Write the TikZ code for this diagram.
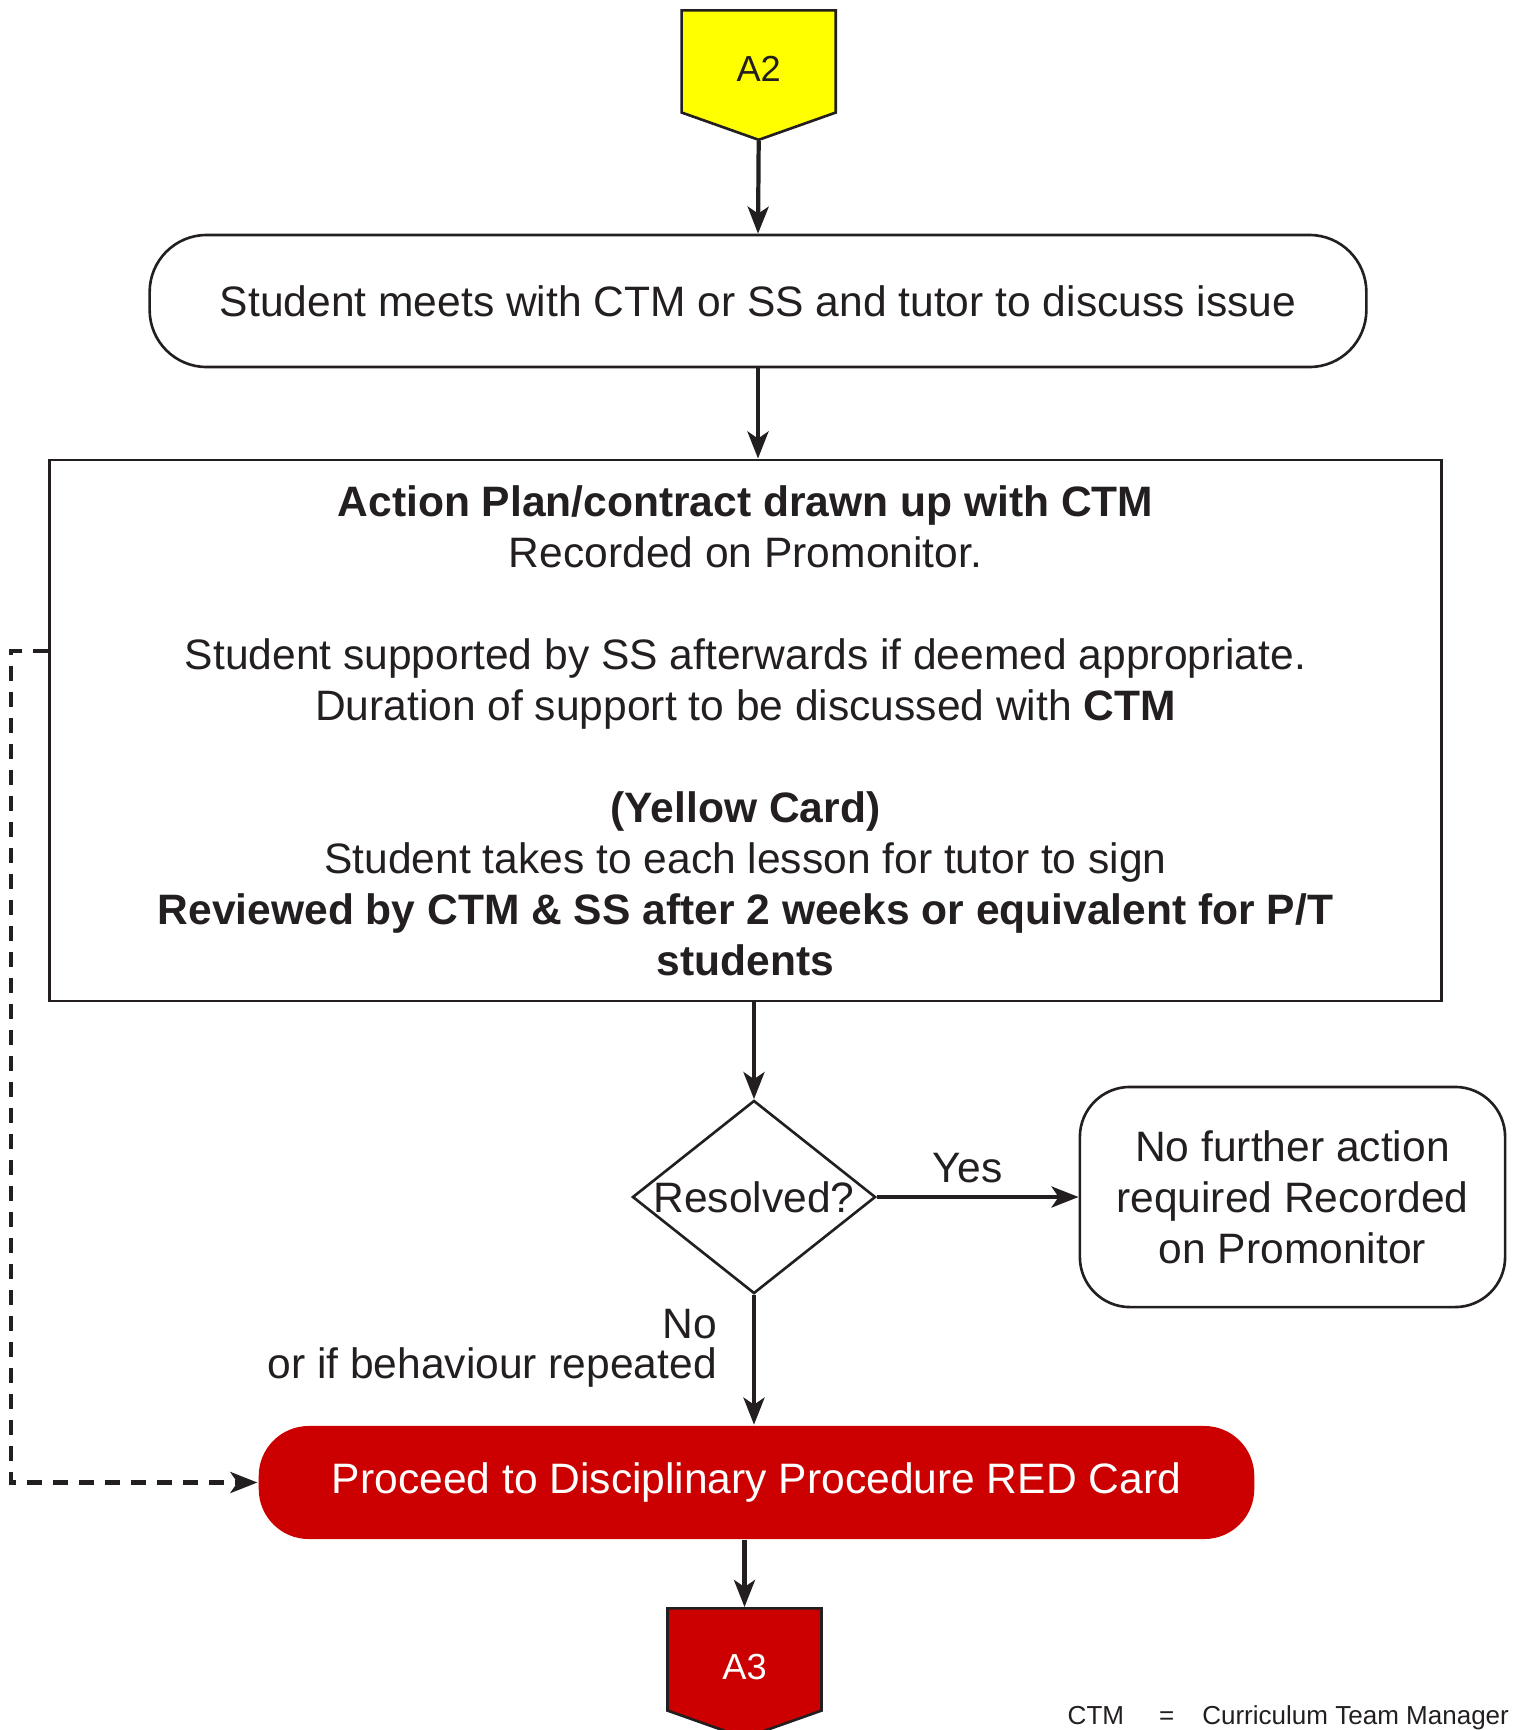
\documentclass[tikz,border=0pt]{standalone}
\usepackage{fontspec}
\setmainfont{Liberation Sans}
\usepackage{tikz}
\usetikzlibrary{arrows.meta, shapes.geometric, shapes.symbols}
\definecolor{FlowYellow}{RGB}{255,255,0}
\definecolor{FlowRed}{RGB}{204,0,0}
\definecolor{FlowInk}{RGB}{35,31,32}

\begin{document}
\begin{tikzpicture}[x=0.01cm, y=-0.01cm,
    every node/.style={font=\fontsize{12.1}{14.5}\selectfont, text=FlowInk},
    box/.style={draw=FlowInk, line width=0.75pt, align=center, inner sep=0pt},
    connector/.style={shape=signal, signal to=south, signal pointer angle=141, draw=FlowInk, line width=0.75pt,
        minimum width=1.54cm, minimum height=1.10cm, inner sep=0pt, font=\fontsize{10.3}{12}\selectfont},
    flow/.style={line width=1.2pt, draw=FlowInk, -{Stealth[length=0.27cm, width=0.21cm, inset=0.07cm]}},
    backflow/.style={flow, dash pattern=on 0.15cm off 0.11cm}]
    \useasboundingbox (0,0) rectangle (1517,1730);

    \node[connector, anchor=north, fill=FlowYellow] (a2) at (758.7, 9) {\raisebox{-0.07cm}[\height][0pt]{A2}};
    \node[box, rounded corners=0.57cm, minimum width=12.16cm, minimum height=1.32cm] (meet) at (758, 301)
        {Student meets with CTM or SS and tutor to discuss issue};
    \node[box, minimum width=13.91cm, minimum height=5.41cm] (plan) at (745.5, 730.5)
        {\textbf{Action Plan/contract drawn up with CTM}\\
         Recorded on Promonitor.\\[14.5pt]
         Student supported by SS afterwards if deemed appropriate.\\
         Duration of support to be discussed with \textbf{CTM}\\[14.5pt]
         \textbf{(Yellow Card)}\\
         Student takes to each lesson for tutor to sign\\
         \textbf{Reviewed by CTM \& SS after 2 weeks or equivalent for P/T}\\
         \textbf{students}};
    \node[box, shape=diamond, aspect=1.26, minimum width=2.43cm, minimum height=1.93cm] (resolved) at (754, 1197) {Resolved?};
    \node[box, rounded corners=0.5cm, minimum width=4.25cm, minimum height=2.2cm] (nofurther) at (1292.5, 1197)
        {No further action\\ required Recorded\\ on Promonitor};
    \node[box, draw=none, fill=FlowRed, text=white, rounded corners=0.5cm, minimum width=9.95cm, minimum height=1.13cm] (redcard)
        at (756.5, 1482.5) {Proceed to Disciplinary Procedure RED Card};
    \node[connector, anchor=north, fill=FlowRed, text=white] (a3) at (744.5, 1607) {\raisebox{-0.07cm}[\height][0pt]{A3}};
    \node[anchor=base west, inner sep=0pt, font=\fontsize{7.4}{9}\selectfont] (legend) at (1067, 1724)
        {CTM\hspace{0.35cm}=\hspace{0.28cm}Curriculum Team Manager};

    % main flow
    \path (a2.south) edge[flow] (meet.north);
    \path (meet.south) edge[flow] (meet.south |- plan.north);
    \path (resolved.north |- plan.south) edge[flow] (resolved.north);
    \path (resolved) edge[flow] node[above, pos=0.45] {Yes} (nofurther);
    \path (resolved.south) edge[flow] node[left, pos=0.41, inner sep=0pt, xshift=-0.35cm, align=right,
        font=\fontsize{12.1}{11.4}\selectfont] {No\\ or if behaviour repeated} (resolved.south |- redcard.north);
    \path (a3.north |- redcard.south) edge[flow] (a3.north);

    % back to red card
    \coordinate (backstart) at ([yshift=-1.92cm]plan.north west);
    \draw[backflow] (backstart) -- ++(-37,0) |- (redcard.west);
\end{tikzpicture}
\end{document}
